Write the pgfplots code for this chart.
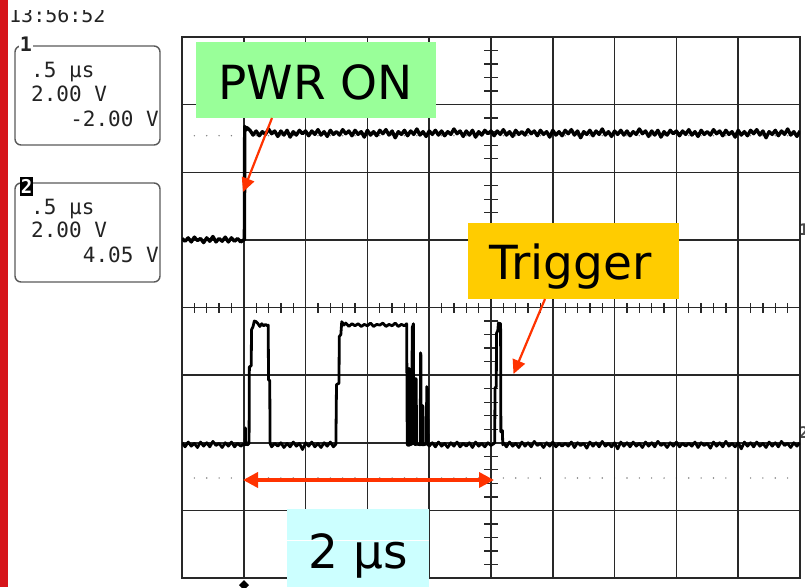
\documentclass[border=0pt]{standalone}
\usepackage{pgfplots}
\pgfplotsset{compat=1.18}
\usepackage{fontspec}
\setmainfont{DejaVu Sans}
\newfontfamily\mono{DejaVu Sans Mono}
\usetikzlibrary{arrows.meta}
\definecolor{scopered}{RGB}{214,20,26}
\definecolor{annred}{RGB}{255,51,0}
\definecolor{pwrgreen}{RGB}{153,255,153}
\definecolor{trigyellow}{RGB}{255,204,0}
\definecolor{lightcyan}{RGB}{204,255,255}
\definecolor{gridc}{RGB}{40,40,40}
\definecolor{paneltext}{RGB}{35,35,35}
\begin{document}
\begin{tikzpicture}[x=1pt,y=1pt]
\useasboundingbox (0,0) rectangle (805,587);
% red bar on the left
\fill[scopered] (0,0) rectangle (8,587);
% time stamp (top cut off)
\node[anchor=base west,inner sep=0pt,text=paneltext] at (9,564) {\mono\fontsize{20}{22}\selectfont 13:56:52};
\fill[white] (8,577) rectangle (200,587);
% channel 1 box
\draw[line width=1.4pt,black!65,rounded corners=6pt] (15,442) rectangle (160,541);
\node[fill=white,inner sep=1pt,text=paneltext] at (26,543) {\mono\bfseries\fontsize{20}{22}\selectfont 1};
\node[anchor=base west,inner sep=0pt,text=paneltext] at (31,509) {\mono\fontsize{21}{23}\selectfont .5 μs};
\node[anchor=base west,inner sep=0pt,text=paneltext] at (31,485) {\mono\fontsize{21}{23}\selectfont 2.00 V};
\node[anchor=base east,inner sep=0pt,text=paneltext] at (159,460) {\mono\fontsize{21}{23}\selectfont -2.00 V};
% channel 2 box
\draw[line width=1.4pt,black!65,rounded corners=6pt] (15,305) rectangle (160,404);
\fill[black] (20,391) rectangle (33,410);
\node[text=white,inner sep=0pt] at (26.5,400.5) {\mono\bfseries\fontsize{19}{21}\selectfont 2};
\node[anchor=base west,inner sep=0pt,text=paneltext] at (31,372) {\mono\fontsize{21}{23}\selectfont .5 μs};
\node[anchor=base west,inner sep=0pt,text=paneltext] at (31,349) {\mono\fontsize{21}{23}\selectfont 2.00 V};
\node[anchor=base east,inner sep=0pt,text=paneltext] at (159,324) {\mono\fontsize{21}{23}\selectfont 4.05 V};
% graticule dotted rows
\draw[gray,line width=1.6pt,line cap=round,dash pattern=on 0pt off 12.36pt] (182,451.3) -- (800,451.3);
\draw[gray,line width=1.6pt,line cap=round,dash pattern=on 0pt off 12.36pt] (182,109) -- (800,109);
% centre tick marks
\foreach \k in {1,...,39} {\draw[gridc,line width=1.3pt] (484,{9+\k*13.525}) -- (498,{9+\k*13.525});}
\foreach \k in {1,...,49} {\draw[gridc,line width=1.3pt] ({182+\k*12.36},274.5) -- ({182+\k*12.36},284.5);}
% right edge channel markers
\node[anchor=west,inner sep=0pt,text=black!70] at (799,357) {\mono\bfseries\fontsize{16}{18}\selectfont 1};
\node[anchor=west,inner sep=0pt,text=black!70] at (799,154) {\mono\bfseries\fontsize{16}{18}\selectfont 2};
% trigger position marker at the bottom
\fill[black] (239,2) -- (244,7) -- (249,2) -- (244,-3) -- cycle;
\begin{axis}[
  at={(182pt,9pt)}, anchor=south west,
  scale only axis, width=618pt, height=541pt,
  xmin=0, xmax=10, ymin=0, ymax=8,
  xtick={0,1,2,3,4,5,6,7,8,9,10},
  ytick={0,1,2,3,4,5,6,7,8},
  xticklabels={}, yticklabels={},
  major tick length=0pt,
  grid=major,
  grid style={line width=1.5pt,gridc},
  axis line style={line width=1.8pt,gridc},
  clip=true,
]
% channel 1: power rail
\addplot[black,line width=3.4pt,line join=round] coordinates {
(0.00,5.02)(0.05,4.98)(0.10,5.03)(0.15,4.97)(0.20,5.04)(0.25,4.99)(0.30,5.02)(0.35,4.96)(0.40,5.03)(0.45,4.98)(0.50,5.05)(0.55,4.97)(0.60,5.02)(0.65,4.98)(0.70,5.04)(0.75,4.97)(0.80,5.03)(0.85,4.98)(0.90,5.02)(0.95,4.97)(1.00,5.00)(1.01,5.00)(1.015,6.68)(1.03,6.62)(1.05,6.66)
(1.10,6.62)(1.15,6.55)(1.20,6.61)(1.25,6.54)(1.30,6.60)(1.35,6.56)(1.40,6.64)(1.45,6.57)(1.50,6.61)(1.55,6.53)(1.60,6.61)(1.65,6.55)(1.70,6.62)(1.75,6.52)(1.80,6.60)(1.85,6.55)(1.90,6.62)(1.95,6.57)(2.00,6.61)(2.05,6.54)
(2.10,6.61)(2.15,6.56)(2.20,6.63)(2.25,6.55)(2.30,6.60)(2.35,6.53)(2.40,6.62)(2.45,6.56)(2.50,6.60)(2.55,6.55)(2.60,6.63)(2.65,6.57)(2.70,6.61)(2.75,6.54)(2.80,6.62)(2.85,6.56)(2.90,6.60)(2.95,6.52)(3.00,6.62)(3.05,6.55)
(3.10,6.60)(3.15,6.54)(3.20,6.62)(3.25,6.57)(3.30,6.63)(3.35,6.55)(3.40,6.61)(3.45,6.51)(3.50,6.60)(3.55,6.56)(3.60,6.62)(3.65,6.54)(3.70,6.61)(3.75,6.56)(3.80,6.64)(3.85,6.55)(3.90,6.60)(3.95,6.53)(4.00,6.61)(4.05,6.56)
(4.10,6.62)(4.15,6.55)(4.20,6.61)(4.25,6.54)(4.30,6.60)(4.35,6.56)(4.40,6.64)(4.45,6.57)(4.50,6.61)(4.55,6.53)(4.60,6.61)(4.65,6.55)(4.70,6.62)(4.75,6.52)(4.80,6.60)(4.85,6.55)(4.90,6.62)(4.95,6.57)(5.00,6.61)(5.05,6.54)
(5.10,6.61)(5.15,6.56)(5.20,6.63)(5.25,6.55)(5.30,6.60)(5.35,6.53)(5.40,6.62)(5.45,6.56)(5.50,6.60)(5.55,6.55)(5.60,6.63)(5.65,6.57)(5.70,6.61)(5.75,6.54)(5.80,6.62)(5.85,6.56)(5.90,6.60)(5.95,6.52)(6.00,6.62)(6.05,6.55)
(6.10,6.60)(6.15,6.54)(6.20,6.62)(6.25,6.57)(6.30,6.63)(6.35,6.55)(6.40,6.61)(6.45,6.51)(6.50,6.60)(6.55,6.56)(6.60,6.62)(6.65,6.54)(6.70,6.61)(6.75,6.56)(6.80,6.64)(6.85,6.55)(6.90,6.60)(6.95,6.53)(7.00,6.61)(7.05,6.56)
(7.10,6.62)(7.15,6.55)(7.20,6.61)(7.25,6.54)(7.30,6.60)(7.35,6.56)(7.40,6.64)(7.45,6.57)(7.50,6.61)(7.55,6.53)(7.60,6.61)(7.65,6.55)(7.70,6.62)(7.75,6.52)(7.80,6.60)(7.85,6.55)(7.90,6.62)(7.95,6.57)(8.00,6.61)(8.05,6.54)
(8.10,6.61)(8.15,6.56)(8.20,6.63)(8.25,6.55)(8.30,6.60)(8.35,6.53)(8.40,6.62)(8.45,6.56)(8.50,6.60)(8.55,6.55)(8.60,6.63)(8.65,6.57)(8.70,6.61)(8.75,6.54)(8.80,6.62)(8.85,6.56)(8.90,6.60)(8.95,6.52)(9.00,6.62)(9.05,6.55)
(9.10,6.60)(9.15,6.54)(9.20,6.62)(9.25,6.57)(9.30,6.63)(9.35,6.55)(9.40,6.61)(9.45,6.51)(9.50,6.60)(9.55,6.56)(9.60,6.62)(9.65,6.54)(9.70,6.61)(9.75,6.56)(9.80,6.64)(9.85,6.55)(9.90,6.60)(9.95,6.53)(10.00,6.61)
};
% channel 2: data line
\addplot[black,line width=2.8pt,line join=round] coordinates {
(0.00,2.00)(0.05,1.94)(0.10,2.01)(0.15,1.95)(0.20,1.99)(0.25,1.93)(0.30,2.01)(0.35,1.95)(0.40,2.00)(0.45,1.94)(0.50,2.02)(0.55,1.96)(0.60,1.99)(0.65,1.93)(0.70,2.00)(0.75,1.95)(0.80,2.01)(0.85,1.94)(0.90,1.99)(0.95,1.95)(1.00,1.98)
(1.02,1.97)(1.025,2.22)(1.03,1.98)(1.06,1.97)(1.085,1.99)(1.09,3.12)(1.12,3.14)(1.125,3.67)(1.15,3.72)(1.17,3.80)(1.20,3.79)(1.23,3.76)(1.26,3.72)(1.29,3.76)(1.32,3.73)(1.35,3.75)(1.38,3.73)(1.395,3.74)(1.40,2.93)(1.42,2.92)(1.425,1.99)
(1.45,1.94)(1.50,1.99)(1.55,1.95)(1.60,2.00)(1.65,1.93)(1.70,1.99)(1.75,1.94)(1.80,2.01)(1.85,1.95)(1.90,1.99)(1.95,1.90)(2.00,2.00)(2.05,1.95)(2.10,2.01)(2.15,1.94)(2.20,1.99)(2.25,1.93)(2.30,2.00)(2.35,1.95)(2.40,2.01)(2.45,1.94)(2.49,1.98)
(2.50,2.86)(2.54,2.88)(2.545,3.57)(2.57,3.60)(2.585,3.79)(2.62,3.74)(2.65,3.77)(2.70,3.72)(2.75,3.76)(2.80,3.73)(2.85,3.76)(2.90,3.72)(2.95,3.75)(3.00,3.73)(3.05,3.77)(3.10,3.72)(3.15,3.75)(3.20,3.74)(3.25,3.77)(3.30,3.72)(3.35,3.75)(3.40,3.73)(3.45,3.77)(3.50,3.72)(3.55,3.75)(3.60,3.73)(3.635,3.76)
(3.645,1.97)(3.67,1.96)(3.675,3.10)(3.68,3.05)(3.685,1.97)(3.72,1.98)(3.725,3.70)(3.745,3.76)(3.75,1.99)(3.78,1.97)(3.785,2.95)(3.79,2.93)(3.795,1.98)(3.855,1.97)(3.86,3.33)(3.865,3.30)(3.87,1.98)(3.89,1.97)(3.895,2.55)(3.90,2.52)(3.905,1.97)(3.955,1.98)(3.96,2.83)(3.97,2.80)(3.985,1.97)
(4.00,1.95)(4.05,2.00)(4.10,1.94)(4.15,2.01)(4.20,1.95)(4.25,1.99)(4.30,1.93)(4.35,2.00)(4.40,1.95)(4.45,2.01)(4.50,1.94)(4.55,1.99)(4.60,1.95)(4.65,2.00)(4.70,1.93)(4.75,2.01)(4.80,1.95)(4.85,1.99)(4.90,1.94)(4.95,2.00)(5.00,1.96)(5.05,1.99)
(5.06,2.00)(5.065,2.81)(5.085,2.83)(5.09,3.62)(5.11,3.66)(5.12,3.77)(5.155,3.76)(5.16,2.16)(5.185,2.18)(5.19,1.97)
(5.20,2.00)(5.25,1.94)(5.30,2.01)(5.35,1.95)(5.40,1.99)(5.45,1.93)(5.50,2.01)(5.55,1.95)(5.60,2.00)(5.65,1.94)(5.70,2.02)(5.75,1.96)(5.80,1.99)(5.85,1.93)(5.90,2.00)(5.95,1.95)(6.00,2.01)(6.05,1.94)(6.10,1.99)(6.15,1.95)
(6.20,1.99)(6.25,1.95)(6.30,2.01)(6.35,1.93)(6.40,2.00)(6.45,1.96)(6.50,1.99)(6.55,1.92)(6.60,2.01)(6.65,1.95)(6.70,2.00)(6.75,1.94)(6.80,2.02)(6.85,1.95)(6.90,1.99)(6.95,1.94)(7.00,2.00)(7.05,1.91)(7.10,2.01)(7.15,1.95)
(7.20,2.00)(7.25,1.94)(7.30,2.01)(7.35,1.95)(7.40,1.99)(7.45,1.93)(7.50,2.01)(7.55,1.95)(7.60,2.00)(7.65,1.94)(7.70,2.02)(7.75,1.96)(7.80,1.99)(7.85,1.93)(7.90,2.00)(7.95,1.95)(8.00,2.01)(8.05,1.94)(8.10,1.99)(8.15,1.95)
(8.20,1.99)(8.25,1.95)(8.30,2.01)(8.35,1.93)(8.40,2.00)(8.45,1.96)(8.50,1.99)(8.55,1.92)(8.60,2.01)(8.65,1.95)(8.70,2.00)(8.75,1.94)(8.80,2.02)(8.85,1.95)(8.90,1.99)(8.95,1.94)(9.00,2.00)(9.05,1.91)(9.10,2.01)(9.15,1.95)
(9.20,2.00)(9.25,1.94)(9.30,2.01)(9.35,1.95)(9.40,1.99)(9.45,1.93)(9.50,2.01)(9.55,1.95)(9.60,2.00)(9.65,1.94)(9.70,2.02)(9.75,1.96)(9.80,1.99)(9.85,1.93)(9.90,2.00)(9.95,1.95)(10.00,2.00)
};
\end{axis}
% annotations
\fill[pwrgreen] (196,469) rectangle (436,545);
\node[anchor=base,inner sep=0pt] at (315.5,487) {\fontsize{47}{50}\selectfont PWR ON};
\draw[annred,line width=2.2pt,-{Triangle[length=14pt,width=13pt]}] (272,469) -- (243,395);
\fill[trigyellow] (468,288) rectangle (679,364);
\node[anchor=base,inner sep=0pt] at (570.5,307) {\fontsize{47}{50}\selectfont Trigger};
\draw[annred,line width=2.2pt,-{Triangle[length=14pt,width=13pt]}] (545,288) -- (513.5,213);
\draw[annred,line width=3.6pt,{Triangle[length=15pt,width=15pt]}-{Triangle[length=15pt,width=15pt]}] (243,107) -- (494,107);
\fill[lightcyan] (287,0) rectangle (429,78);
\draw[white,line width=1pt] (287,47) -- (429,47);
\node[anchor=base,inner sep=0pt] at (358,19) {\fontsize{47}{50}\selectfont 2 µs};
\end{tikzpicture}
\end{document}
